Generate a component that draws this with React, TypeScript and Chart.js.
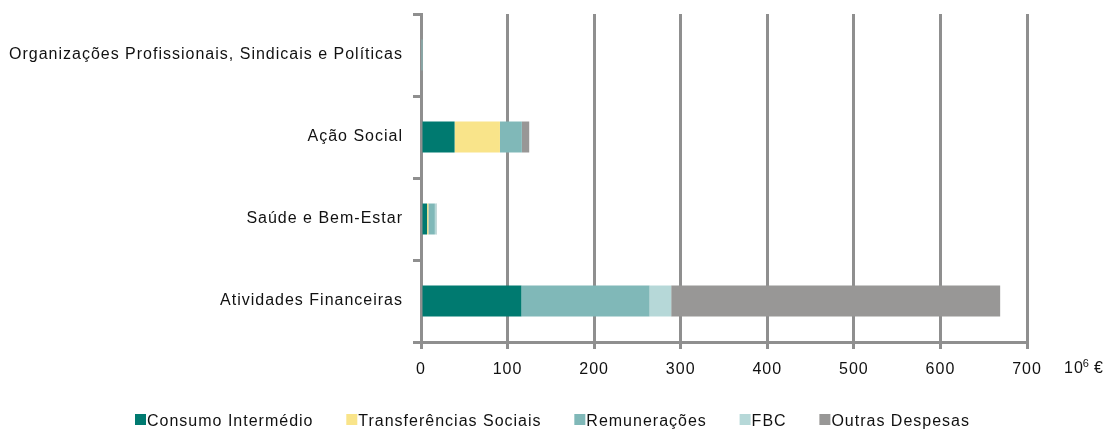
import React, { useEffect, useRef } from "react";
import { Chart, registerables } from "chart.js";

Chart.register(...registerables);

const categories = [
  "Organizações Profissionais, Sindicais e Políticas",
  "Ação Social",
  "Saúde e Bem-Estar",
  "Atividades Financeiras",
];

const consumoIntermedio = [0, 38.8, 7, 116];
const transferenciasSociais = [0, 52.4, 1.5, 0];
const remuneracoes = [0.6, 25.3, 7.5, 148];
const fbc = [0, 0, 2, 25];
const outrasDespesas = [1.6, 8.5, 0.4, 380];

const xTicks = [0, 100, 200, 300, 400, 500, 600, 700];
const unitLabel = { base: "10", sup: "6", suffix: "€" };

const FONT = "'Liberation Sans', Arial, sans-serif";
const GRID = "#8f8f8f";
const TEXT = "#111111";

export default function App() {
  const ref = useRef<HTMLCanvasElement | null>(null);

  useEffect(() => {
    if (!ref.current) return;

    const spacingPlugin = {
      id: "spacing",
      beforeDraw(chart: any) {
        (chart.ctx as any).letterSpacing = "1px";
      },
    };

    const extrasPlugin = {
      id: "extras",
      afterDraw(chart: any) {
        const ctx = chart.ctx;
        const area = chart.chartArea;
        ctx.save();
        (ctx as any).letterSpacing = "1px";
        ctx.fillStyle = TEXT;
        ctx.textBaseline = "alphabetic";
        ctx.textAlign = "left";
        // unit label
        const ux = area.right + 37;
        const uy = area.bottom + 31;
        ctx.font = `16px ${FONT}`;
        ctx.fillText(unitLabel.base, ux, uy);
        let w = ctx.measureText(unitLabel.base).width;
        ctx.font = `11px ${FONT}`;
        ctx.fillText(unitLabel.sup, ux + w - 1, uy - 6);
        w += ctx.measureText(unitLabel.sup).width;
        ctx.font = `16px ${FONT}`;
        ctx.fillText(unitLabel.suffix, ux + w + 3, uy);

        // legend
        const ds = chart.data.datasets;
        const box = 11;
        ctx.font = `16px ${FONT}`;
        const widths = ds.map((d: any) => box + 1 + ctx.measureText(d.label).width);
        const total = widths.reduce((a: number, b: number) => a + b, 0);
        const startX = 135;
        const endX = 970;
        const gap = (endX - startX - total) / (ds.length - 1);
        let x = startX;
        const by = chart.height - 16;
        ds.forEach((d: any, i: number) => {
          ctx.fillStyle = d.backgroundColor;
          ctx.fillRect(x, by, box, box);
          ctx.fillStyle = TEXT;
          ctx.fillText(d.label, x + box + 1, by + 11.5);
          x += widths[i] + gap;
        });
        ctx.restore();
      },
    };

    const chart = new Chart(ref.current, {
      type: "bar",
      data: {
        labels: categories,
        datasets: [
          { label: "Consumo Intermédio", data: consumoIntermedio, backgroundColor: "#007a70" },
          { label: "Transferências Sociais", data: transferenciasSociais, backgroundColor: "#f9e48a" },
          { label: "Remunerações", data: remuneracoes, backgroundColor: "#80b8b8" },
          { label: "FBC", data: fbc, backgroundColor: "#b6d8d8" },
          { label: "Outras Despesas", data: outrasDespesas, backgroundColor: "#989796" },
        ].map((d) => ({ ...d, borderWidth: 0, categoryPercentage: 1, barPercentage: 0.378 })),
      },
      options: {
        indexAxis: "y",
        animation: false,
        responsive: true,
        maintainAspectRatio: false,
        layout: { padding: { left: 0, top: 14, right: 80, bottom: 0 } },
        plugins: {
          legend: { display: false },
          tooltip: { enabled: false },
        },
        scales: {
          x: {
            stacked: true,
            min: 0,
            max: 700,
            afterBuildTicks(scale: any) {
              scale.ticks = xTicks.map((v) => ({ value: v }));
            },
            afterFit(scale: any) {
              scale.height = 88;
              scale.paddingLeft = 0;
              scale.paddingRight = 0;
            },
            grid: {
              color: GRID,
              lineWidth: 3,
              tickLength: 7,
              drawOnChartArea: true,
              drawTicks: true,
            },
            border: { color: GRID, width: 3 },
            ticks: {
              color: TEXT,
              font: { family: FONT, size: 16 },
              padding: 11,
              maxRotation: 0,
            },
          },
          y: {
            stacked: true,
            afterFit(scale: any) {
              scale.width = 421;
              scale.paddingTop = 0;
              scale.paddingBottom = 0;
            },
            grid: {
              color: GRID,
              lineWidth: 3,
              tickLength: 8,
              drawOnChartArea: false,
              drawTicks: true,
              offset: true,
            },
            border: { color: GRID, width: 3 },
            ticks: {
              color: TEXT,
              font: { family: FONT, size: 16 },
              padding: 10,
            },
          },
        },
      },
      plugins: [spacingPlugin, extrasPlugin],
    } as any);

    return () => chart.destroy();
  }, []);

  return (
    <div style={{ position: "absolute", left: 0, top: 0, width: 1107, height: 430, background: "#fff" }}>
      <canvas ref={ref} />
    </div>
  );
}
